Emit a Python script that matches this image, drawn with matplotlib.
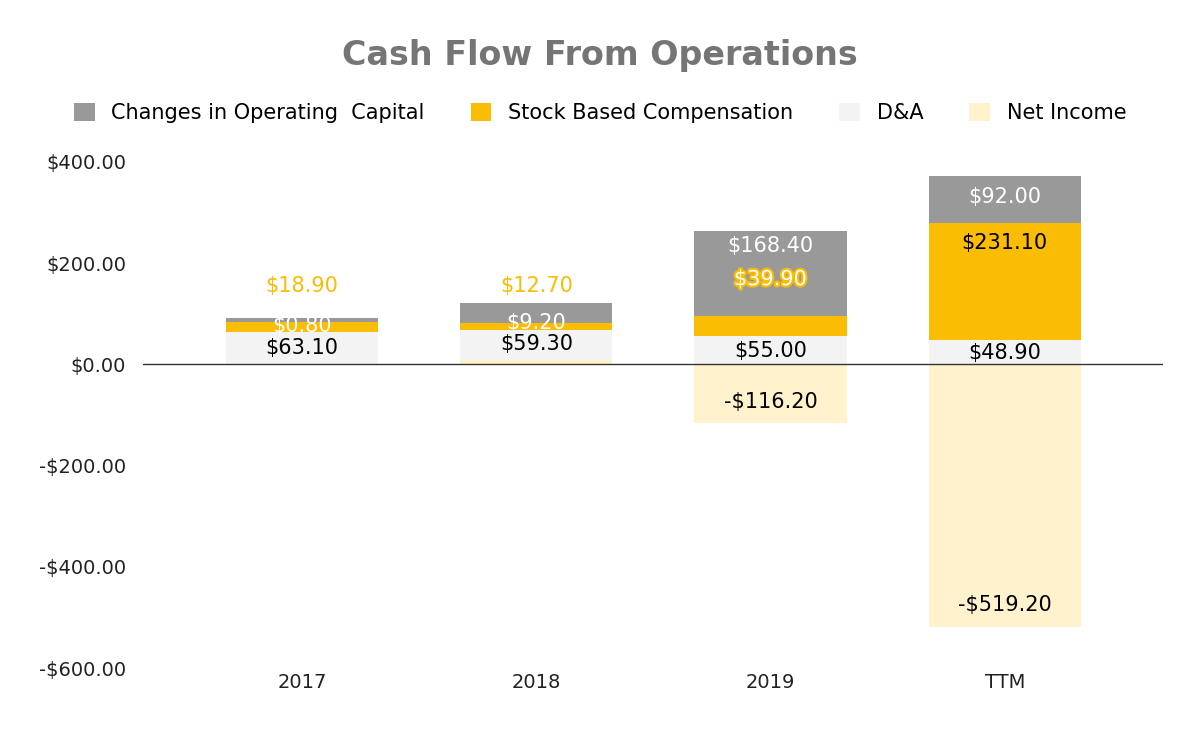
import matplotlib
matplotlib.use("Agg")
import matplotlib.pyplot as plt
import matplotlib.patheffects as pe
import numpy as np

# data ------------
years = ["2017", "2018", "2019", "TTM"]
net_income = [0.8, 9.2, -116.2, -519.2]
d_and_a = [63.1, 59.3, 55.0, 48.9]
stock_comp = [18.9, 12.7, 39.9, 231.1]
op_capital = [8.0, 40.0, 168.4, 92.0]

# label positions (y in data units) as Sheets placed them
labels_text = [
    ["$18.90", "$0.80", "$63.10"],
    ["$12.70", "$9.20", "$59.30"],
    ["$168.40", "$39.90", "$55.00", "-$116.20"],
    ["$92.00", "$231.10", "$48.90", "-$519.20"],
]
labels_y = [
    [155, 75, 33],
    [155, 82, 40],
    [233, 168, 27, -75],
    [330, 240, 22, -475],
]
labels_style = [
    ["yellow", "white", "black"],
    ["yellow", "white", "black"],
    ["white", "outline", "black", "black"],
    ["white", "black", "black", "black"],
]

C_CAP, C_SBC, C_DA, C_NI = "#999999", "#fbbc04", "#f3f3f3", "#fff2cc"

fig = plt.figure(figsize=(12, 7.42), dpi=100)
ax = fig.add_axes([0.119, 0.0997, 0.85, 0.6823])
x = np.arange(len(years))
w = 0.65

pos_base = np.zeros(len(years))
neg_base = np.zeros(len(years))
for vals, col, name in [(net_income, C_NI, "Net Income"), (d_and_a, C_DA, "D&A"),
                        (stock_comp, C_SBC, "Stock Based Compensation"),
                        (op_capital, C_CAP, "Changes in Operating  Capital")]:
    vals = np.array(vals)
    base = np.where(vals >= 0, pos_base, neg_base)
    ax.bar(x, vals, w, bottom=base, color=col, label=name, zorder=2)
    pos_base += np.where(vals >= 0, vals, 0)
    neg_base += np.where(vals < 0, vals, 0)

for i in range(len(years)):
    for t, y, s in zip(labels_text[i], labels_y[i], labels_style[i]):
        kw = dict(ha="center", va="center", fontsize=15, zorder=4)
        if s == "yellow":
            ax.text(x[i], y, t, color=C_SBC, **kw)
        elif s == "outline":
            ax.text(x[i], y, t, color="white",
                    path_effects=[pe.withStroke(linewidth=3, foreground=C_SBC)], **kw)
        else:
            ax.text(x[i], y, t, color=s, **kw)

ax.axhline(0, color="#333333", linewidth=1, zorder=3)
ax.set_ylim(-600, 400)
ax.set_xlim(-0.68, 3.675)
ax.set_yticks([-600, -400, -200, 0, 200, 400])
ax.set_yticklabels(["-$600.00", "-$400.00", "-$200.00", "$0.00", "$200.00", "$400.00"])
ax.set_xticks(x)
ax.set_xticklabels(years)
ax.tick_params(length=0, labelsize=14, colors="#222222")
ax.tick_params(axis="y", pad=12)
for sp in ax.spines.values():
    sp.set_visible(False)

fig.text(0.5, 0.925, "Cash Flow From Operations", ha="center", va="center",
         fontsize=24, fontweight="bold", color="#757575")
h, l = ax.get_legend_handles_labels()
fig.legend(h[::-1], l[::-1], loc="center", bbox_to_anchor=(0.5, 0.848), ncol=4,
           frameon=False, fontsize=15, handlelength=1, handleheight=1,
           columnspacing=2.2, handletextpad=0.8)

fig.savefig("out.png", dpi=100)
